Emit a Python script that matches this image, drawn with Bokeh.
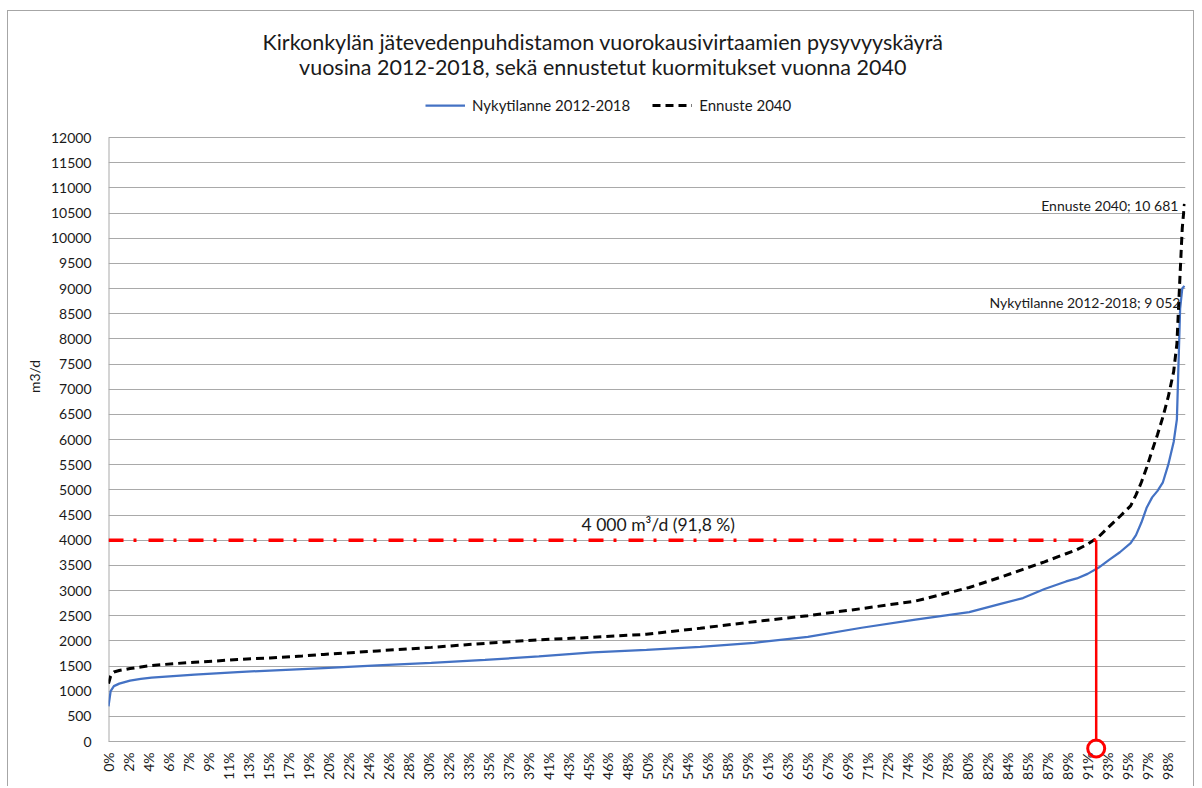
from bokeh.plotting import figure
from bokeh.models import Range1d, FixedTicker, Label, Legend, LegendItem, ColumnDataSource
from bokeh.embed import file_html
from bokeh.resources import INLINE
import math

# ---------------- data ----------------
title_lines = [
    "Kirkonkylän jätevedenpuhdistamon vuorokausivirtaamien pysyvyyskäyrä",
    "vuosina 2012-2018, sekä ennustetut kuormitukset vuonna 2040",
]
series_names = ["Nykytilanne 2012-2018", "Ennuste 2040"]
y_axis_title = "m3/d"

x_tick_labels = ["0%", "2%", "4%", "6%", "7%", "9%", "11%", "13%", "15%", "17%",
                 "19%", "20%", "22%", "24%", "26%", "28%", "30%", "32%", "33%", "35%",
                 "37%", "39%", "41%", "43%", "45%", "46%", "48%", "50%", "52%", "54%",
                 "56%", "58%", "59%", "61%", "63%", "65%", "67%", "69%", "71%", "72%",
                 "74%", "76%", "78%", "80%", "82%", "84%", "85%", "87%", "89%", "91%",
                 "93%", "95%", "97%", "98%"]
x_tick_step = 1.857          # percent of time between two category labels
y_ticks = list(range(0, 12001, 500))
y_max = 12000

pct = [0, 0.2, 0.5, 1, 2, 3, 4, 6, 8, 10, 12, 15, 18, 20, 25, 30, 35, 40, 45, 50,
       55, 60, 65, 70, 75, 80, 83, 85, 87, 89, 90, 91, 92, 93, 94, 95, 95.5, 96,
       96.5, 97, 97.5, 98, 98.5, 99, 99.3, 99.6, 99.8, 100]
nykytilanne = [700, 1000, 1100, 1150, 1210, 1245, 1270, 1300, 1330, 1355, 1380, 1410,
               1440, 1460, 1510, 1560, 1620, 1690, 1770, 1820, 1880, 1960, 2080, 2260,
               2420, 2570, 2740, 2850, 3030, 3180, 3240, 3330, 3450, 3610, 3760, 3940,
               4100, 4350, 4650, 4850, 4980, 5150, 5500, 5950, 6400, 8600, 9000, 9052]
ennuste = [1150, 1300, 1380, 1410, 1450, 1480, 1510, 1545, 1575, 1600, 1630, 1660,
           1700, 1730, 1800, 1870, 1950, 2020, 2070, 2130, 2250, 2380, 2500, 2640,
           2790, 3060, 3270, 3420, 3570, 3730, 3810, 3920, 4060, 4270, 4470, 4680,
           4900, 5150, 5450, 5780, 6100, 6450, 6850, 7350, 7900, 9300, 10200, 10681]

threshold_value = 4000
threshold_pct = 91.8
threshold_text = "4 000 m³/d (91,8 %)"
nyky_label = "Nykytilanne 2012-2018; 9 052"
ennuste_label = "Ennuste 2040; 10 681"

# ---------------- styling ----------------
FONT = "Lato"
TXT = "#1a1a1a"
GRID = "#a9a9a9"
BLUE = "#4472C4"

# The frame reaches the top of the chart so that title and legend can live inside
# it; the value axis itself still spans 0..12000 (604 px of a 730 px tall frame).
FRAME_H = 730
AXIS_H = 604
CIRCLE_DROP_PX = 7

p = figure(width=1187, height=776, output_backend="svg", toolbar_location=None,
           x_range=Range1d(0, 100.1), y_range=Range1d(0, y_max * FRAME_H / AXIS_H),
           min_border_left=100, min_border_right=10, min_border_top=0,
           min_border_bottom=46, title=None)
p.outline_line_color = None
p.background_fill_color = "white"
p.border_fill_color = "white"
p.styles = {"margin-left": "7px", "margin-top": "10px",
            "border-top": "1px solid #a6a6a6", "border-left": "1px solid #a6a6a6",
            "border-right": "1px solid #a6a6a6"}

# axes
xticks = [i * x_tick_step for i in range(len(x_tick_labels))]
p.xaxis.ticker = FixedTicker(ticks=xticks)
p.xaxis.major_label_overrides = {t: lab for t, lab in zip(xticks, x_tick_labels)}
p.xaxis.major_label_orientation = math.pi / 2
p.yaxis.ticker = FixedTicker(ticks=y_ticks)
for ax in (p.xaxis, p.yaxis):
    ax.major_tick_line_color = None
    ax.minor_tick_line_color = None
    ax.axis_line_color = GRID
    ax.major_label_text_font = FONT
    ax.major_label_text_font_size = "14px"
    ax.major_label_text_color = TXT
p.yaxis.axis_line_color = None
p.xaxis.major_label_standoff = 5
p.yaxis.major_label_standoff = 11
p.yaxis.axis_label = y_axis_title
p.yaxis.axis_label_text_font = FONT
p.yaxis.axis_label_text_font_size = "14px"
p.yaxis.axis_label_text_font_style = "normal"
p.yaxis.axis_label_text_color = TXT
p.yaxis.axis_label_standoff = 5

p.xgrid.grid_line_color = None
p.ygrid.ticker = FixedTicker(ticks=y_ticks)
p.ygrid.grid_line_color = GRID
p.ygrid.grid_line_width = 1

# vertical value-axis line from 0 to the top tick
p.segment(x0=[0], y0=[0], x1=[0], y1=[y_max], line_color=GRID, line_width=2)

# series
src = ColumnDataSource(dict(pct=pct, nyky=nykytilanne, enn=ennuste))
r_ny = p.line("pct", "nyky", source=src, line_color=BLUE, line_width=2.25)
r_en = p.line("pct", "enn", source=src, line_color="black", line_width=3,
              line_dash="8 5")

# threshold marks
p.line([0, threshold_pct], [threshold_value, threshold_value], line_color="red",
       line_width=3.5, line_dash="15 10 3 12")
p.line([threshold_pct, threshold_pct], [0, threshold_value], line_color="red",
       line_width=2.5)
p.scatter([threshold_pct], [0 - CIRCLE_DROP_PX * y_max / AXIS_H], marker="circle",
          size=17, fill_color=None, line_color="red", line_width=3, level="overlay")

p.add_layout(Label(x=51.1, y=threshold_value, text=threshold_text, y_offset=16,
                   text_align="center", text_baseline="middle", text_font=FONT,
                   text_font_size="17.5px", text_color=TXT))

# data labels at series maxima
p.add_layout(Label(x=pct[-1], y=ennuste[-1], text=ennuste_label, x_offset=-6,
                   y_offset=-2, text_align="right", text_baseline="middle",
                   text_font=FONT, text_font_size="14px", text_color=TXT))
p.add_layout(Label(x=pct[-1], y=nykytilanne[-1], text=nyky_label, x_offset=-4,
                   y_offset=-17, text_align="right", text_baseline="middle",
                   text_font=FONT, text_font_size="14px", text_color=TXT))

# two-line title (screen units, measured from the frame's lower-left corner)
p.add_layout(Label(x=494.5, y=700, x_units="screen", y_units="screen",
                   text=title_lines[0], text_align="center", text_baseline="middle",
                   text_font=FONT, text_font_size="21.5px", text_color=TXT))
p.add_layout(Label(x=494.5, y=675, x_units="screen", y_units="screen",
                   text=title_lines[1], text_align="center", text_baseline="middle",
                   text_font=FONT, text_font_size="21.5px", text_color=TXT))

# legend (location = lower-left corner, frame-relative screen units)
legend = Legend(items=[LegendItem(label=series_names[0], renderers=[r_ny]),
                       LegendItem(label=series_names[1], renderers=[r_en])],
                location=(317, 626), orientation="horizontal",
                glyph_width=40, glyph_height=20, label_height=20, label_standoff=7,
                spacing=22, padding=0, margin=0, border_line_color=None,
                background_fill_alpha=0, label_text_font=FONT,
                label_text_font_size="15px", label_text_color=TXT)
p.add_layout(legend, "center")

open("out.html", "w").write(file_html(p, INLINE))
